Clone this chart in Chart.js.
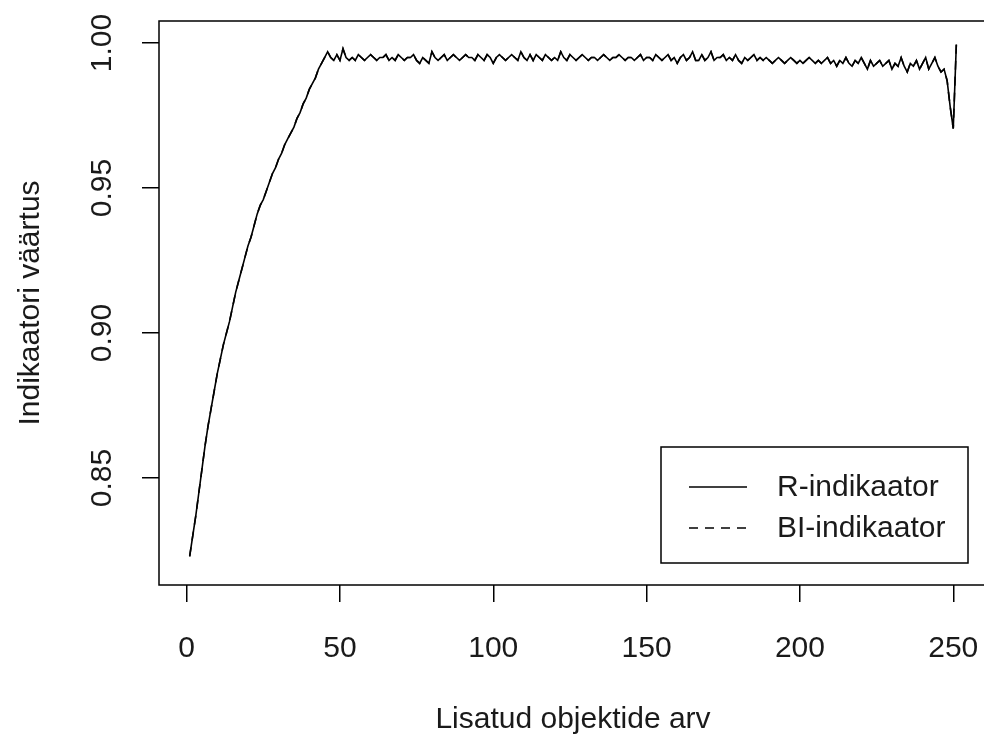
<!DOCTYPE html>
<html>
<head>
<meta charset="utf-8">
<script src="https://cdn.jsdelivr.net/npm/chart.js@4/dist/chart.umd.min.js"></script>
<style>
  html, body { margin: 0; padding: 0; background: #fff; overflow: hidden; }
  canvas { display: block; }
</style>
</head>
<body>
<canvas id="chart" width="1000" height="740"></canvas>
<script>
// values, one per added object (x = 1..251)
const rValues = [
  0.823, 0.830, 0.837, 0.845, 0.853, 0.861, 0.868, 0.874, 0.880, 0.886,
  0.891, 0.896, 0.900, 0.904, 0.909, 0.914, 0.918, 0.922, 0.926, 0.930,
  0.933, 0.937, 0.941, 0.944, 0.946, 0.949, 0.952, 0.955, 0.957, 0.960,
  0.962, 0.965, 0.967, 0.969, 0.971, 0.974, 0.976, 0.979, 0.981, 0.984,
  0.986, 0.988, 0.991, 0.993, 0.995, 0.997,
  0.995, 0.994, 0.996, 0.994, 0.998, 0.995, 0.994, 0.995, 0.994, 0.996,
  0.995, 0.994, 0.995, 0.996, 0.995, 0.994, 0.995, 0.995, 0.996, 0.994,
  0.995, 0.994, 0.996, 0.995, 0.994, 0.995, 0.995, 0.996, 0.994, 0.993,
  0.995, 0.994, 0.993, 0.997, 0.995, 0.994, 0.995, 0.996, 0.994, 0.995,
  0.996, 0.995, 0.994, 0.995, 0.996, 0.995, 0.995, 0.994, 0.996, 0.995,
  0.994, 0.996, 0.995, 0.993, 0.995, 0.996, 0.995, 0.994, 0.995, 0.996,
  0.995, 0.994, 0.997, 0.995, 0.994, 0.996, 0.994, 0.996, 0.995, 0.994,
  0.996, 0.995, 0.994, 0.995, 0.994, 0.997, 0.995, 0.994, 0.996, 0.995,
  0.994, 0.995, 0.996, 0.995, 0.994, 0.995, 0.995, 0.994, 0.995, 0.996,
  0.995, 0.994, 0.995, 0.995, 0.996, 0.995, 0.994, 0.995, 0.995, 0.994,
  0.995, 0.996, 0.994, 0.995, 0.995, 0.994, 0.996, 0.995, 0.994, 0.995,
  0.996, 0.994, 0.995, 0.993, 0.995, 0.996, 0.994, 0.995, 0.997, 0.994,
  0.994, 0.996, 0.994, 0.995, 0.997, 0.994, 0.995, 0.995, 0.996, 0.994,
  0.995, 0.994, 0.996, 0.994, 0.993, 0.995, 0.994, 0.995, 0.996, 0.994,
  0.995, 0.994, 0.995, 0.994, 0.993, 0.994, 0.995, 0.994, 0.993, 0.994,
  0.995, 0.994, 0.993, 0.994, 0.993, 0.994, 0.995, 0.994, 0.993, 0.994,
  0.993, 0.994, 0.995, 0.993, 0.994, 0.992, 0.994, 0.993, 0.995, 0.993,
  0.992, 0.994, 0.993, 0.995, 0.993, 0.991, 0.994, 0.992, 0.993, 0.994,
  0.992, 0.993, 0.994, 0.991, 0.993, 0.992, 0.995, 0.992, 0.990, 0.993,
  0.992, 0.994, 0.991, 0.993, 0.995, 0.991, 0.993, 0.995, 0.992, 0.990,
  0.991, 0.987, 0.978, 0.9705, 0.9995
];
// the BI line lies exactly on the R line in the picture
const biValues = rValues.slice();

const xTicks = [0, 50, 100, 150, 200, 250];
const yTicks = [0.85, 0.90, 0.95, 1.00];
const seriesNames = ['R-indikaator', 'BI-indikaator'];
const xTitle = 'Lisatud objektide arv';
const yTitle = 'Indikaatori väärtus';

const objIndex = rValues.map((v, i) => i + 1);
const FONT = { family: "'Liberation Sans', Arial, sans-serif", size: 30 };

// R style box round the plot region
const boxPlugin = {
  id: 'box',
  afterDraw(chart) {
    const { ctx, chartArea: a } = chart;
    ctx.save();
    ctx.strokeStyle = '#000';
    ctx.lineWidth = 1.5;
    ctx.strokeRect(a.left, a.top, a.right - a.left, a.bottom - a.top);
    ctx.restore();
  }
};

// legend box in the lower right, like legend("bottomright") in R
const legendPlugin = {
  id: 'rLegend',
  afterDraw(chart) {
    const ctx = chart.ctx;
    ctx.save();
    ctx.strokeStyle = '#000';
    ctx.lineWidth = 1.5;
    ctx.strokeRect(661, 447, 307, 116);
    chart.data.datasets.forEach((ds, i) => {
      const y = 487 + i * 41;
      ctx.beginPath();
      ctx.setLineDash(ds.borderDash || []);
      ctx.lineWidth = 1.6;
      ctx.moveTo(689, y);
      ctx.lineTo(747, y);
      ctx.stroke();
      ctx.setLineDash([]);
      ctx.fillStyle = '#1a1a1a';
      ctx.font = FONT.size + 'px ' + FONT.family;
      ctx.textBaseline = 'middle';
      ctx.textAlign = 'left';
      ctx.fillText(ds.label, 777, y + 1);
    });
    ctx.restore();
  }
};

new Chart(document.getElementById('chart'), {
  type: 'line',
  data: {
    labels: objIndex,
    datasets: [
      {
        label: seriesNames[0],
        data: rValues,
        borderColor: '#000',
        borderWidth: 1.6,
        pointRadius: 0,
        tension: 0
      },
      {
        label: seriesNames[1],
        data: biValues,
        borderColor: '#000',
        borderWidth: 1.6,
        borderDash: [9, 7],
        pointRadius: 0,
        tension: 0
      }
    ]
  },
  options: {
    responsive: false,
    animation: false,
    layout: { padding: { top: 21, right: 13, left: 0, bottom: 0 } },
    plugins: {
      legend: { display: false },
      tooltip: { enabled: false }
    },
    scales: {
      x: {
        type: 'linear',
        min: -9,
        max: 261,
        afterFit: s => {
          s.height = 155;
          s.paddingLeft = 0;
          s.paddingRight = 0;
        },
        afterBuildTicks: s => { s.ticks = xTicks.map(v => ({ value: v })); },
        grid: { drawOnChartArea: false, drawTicks: true, tickLength: 17, color: '#000', lineWidth: 1.5 },
        border: { display: false },
        ticks: {
          autoSkip: false, maxRotation: 0, minRotation: 0, padding: 29,
          color: '#1a1a1a', font: FONT
        },
        title: {
          display: true, text: xTitle, color: '#1a1a1a', font: FONT,
          padding: { top: 0, bottom: 2 }
        }
      },
      y: {
        min: 0.8131,
        max: 1.0076,
        afterFit: s => {
          s.width = 159;
          s.paddingTop = 0;
          s.paddingBottom = 0;
        },
        afterBuildTicks: s => { s.ticks = yTicks.map(v => ({ value: v })); },
        grid: { drawOnChartArea: false, drawTicks: true, tickLength: 17, color: '#000', lineWidth: 1.5 },
        border: { display: false },
        ticks: {
          minRotation: 90, maxRotation: 90, crossAlign: 'center', padding: 10,
          color: '#1a1a1a', font: FONT,
          callback: v => v.toFixed(2)
        },
        title: {
          display: true, text: yTitle, color: '#1a1a1a', font: FONT,
          padding: { top: 13, bottom: 0 }
        }
      }
    }
  },
  plugins: [boxPlugin, legendPlugin]
});
</script>
</body>
</html>
